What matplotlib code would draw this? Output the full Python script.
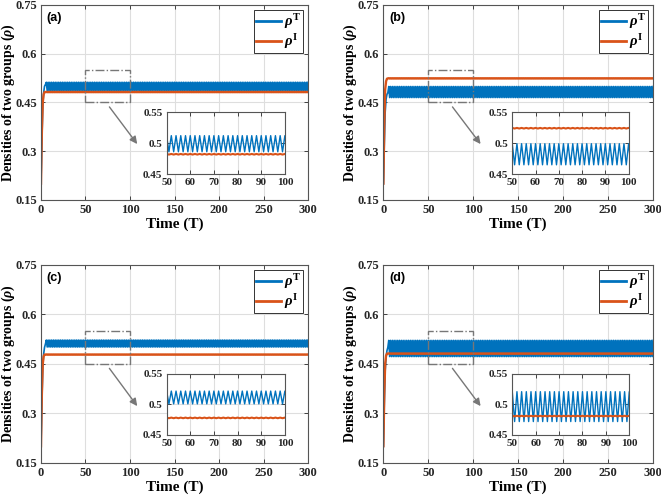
import numpy as np
import matplotlib
matplotlib.use('Agg')
import matplotlib.pyplot as plt
from matplotlib.patches import Rectangle

plt.rcParams['font.family'] = 'Liberation Serif'
plt.rcParams['font.weight'] = 'bold'
plt.rcParams['mathtext.fontset'] = 'custom'
plt.rcParams['mathtext.rm'] = 'Liberation Serif:bold'
plt.rcParams['mathtext.it'] = 'Liberation Serif:bold:italic'
plt.rcParams['mathtext.bf'] = 'Liberation Serif:bold'

# time steps
t = np.arange(0, 301)

# start of each run (t = 0..5)
rhoT_start = {
    'a': [0.20, 0.33, 0.44, 0.48, 0.50, 0.505],
    'b': [0.20, 0.32, 0.42, 0.46, 0.475, 0.48],
    'c': [0.20, 0.33, 0.44, 0.48, 0.50, 0.51],
    'd': [0.20, 0.33, 0.43, 0.47, 0.49, 0.50],
}
rhoI_start = {
    'a': [0.20, 0.36, 0.45, 0.475, 0.482, 0.482],
    'b': [0.20, 0.38, 0.49, 0.515, 0.523, 0.524],
    'c': [0.20, 0.36, 0.45, 0.473, 0.478, 0.478],
    'd': [0.20, 0.36, 0.45, 0.475, 0.481, 0.481],
}
# steady state: value at even / odd steps
rhoT_cycle = {
    'a': [0.512, 0.486],
    'b': [0.499, 0.465],
    'c': [0.522, 0.501],
    'd': [0.521, 0.472],
}
rhoI_cycle = {
    'a': [0.4825, 0.4815],
    'b': [0.5245, 0.5235],
    'c': [0.4785, 0.4775],
    'd': [0.4815, 0.4805],
}

panels = ['a', 'b', 'c', 'd']
main_pos = {
    'a': [0.062, 0.597, 0.404, 0.393],
    'b': [0.580, 0.597, 0.408, 0.393],
    'c': [0.062, 0.067, 0.404, 0.399],
    'd': [0.580, 0.067, 0.408, 0.399],
}
inset_pos = {
    'a': [0.252, 0.649, 0.179, 0.125],
    'b': [0.775, 0.649, 0.176, 0.125],
    'c': [0.252, 0.123, 0.179, 0.123],
    'd': [0.775, 0.123, 0.177, 0.123],
}

blue = '#0072BD'
red = '#D95319'
gridc = '#dedede'
spinec = '#262626'


def build(start, cycle):
    n = len(t) - len(start)
    return np.concatenate([start, np.resize(cycle, n)])


def style(ax, fs):
    ax.tick_params(direction='in', top=True, right=True, labelsize=fs,
                   length=3, width=0.6, colors=spinec, pad=3)
    ax.grid(True, color=gridc, lw=0.8)
    ax.set_axisbelow(True)
    for s in ax.spines.values():
        s.set_color('#555555')
        s.set_linewidth(0.8)
    for lab in ax.get_xticklabels() + ax.get_yticklabels():
        lab.set_fontweight('bold')


fig = plt.figure(figsize=(6.61, 4.96), dpi=100)

for p in panels:
    yT = build(rhoT_start[p], rhoT_cycle[p])
    yI = build(rhoI_start[p], rhoI_cycle[p])

    ax = fig.add_axes(main_pos[p])
    ax.plot(t, yT, color=blue, lw=1.2, label=r'$\rho^{\rm T}$')
    ax.plot(t, yI, color=red, lw=1.7, label=r'$\rho^{\rm I}$')
    ax.set_xlim(0, 300)
    ax.set_ylim(0.15, 0.75)
    ax.set_xticks([0, 50, 100, 150, 200, 250, 300])
    ax.set_yticks([0.15, 0.3, 0.45, 0.6, 0.75])
    ax.set_yticklabels(['0.15', '0.3', '0.45', '0.6', '0.75'])
    style(ax, 9)
    ax.set_xlabel('Time (T)', fontsize=11, fontweight='bold', labelpad=1)
    ax.set_ylabel(r'Densities of two groups ($\rho$)', fontsize=10,
                  fontweight='bold')
    ax.yaxis.set_label_coords(-0.09, 0.5)
    ax.text(0.022, 0.965, '(%s)' % p, transform=ax.transAxes, ha='left',
            va='top', fontsize=9, fontweight='bold', family='Liberation Sans')
    leg = ax.legend(loc='upper right', fontsize=10.5, handlelength=1.7,
                    borderaxespad=0.35, fancybox=False, framealpha=1,
                    edgecolor='#333333', borderpad=0.15, labelspacing=0.05,
                    handletextpad=0.2)
    leg.get_frame().set_linewidth(0.7)
    for ln in leg.get_lines():
        ln.set_linewidth(2.0)

    ax.add_patch(Rectangle((50, 0.45), 50, 0.1, fill=False, ec='#777777',
                           ls='-.', lw=1.0, zorder=5))
    ax.annotate('', xy=(110, 0.315), xytext=(75, 0.443),
                arrowprops=dict(arrowstyle='-|>', color='#777777', lw=1.0,
                                mutation_scale=11))

    ins = fig.add_axes(inset_pos[p])
    ins.plot(t, yT, color=blue, lw=1.0)
    ins.plot(t, yI, color=red, lw=1.5)
    ins.set_xlim(50, 100)
    ins.set_ylim(0.45, 0.55)
    ins.set_xticks([50, 60, 70, 80, 90, 100])
    ins.set_yticks([0.45, 0.5, 0.55])
    ins.set_yticklabels(['0.45', '0.5', '0.55'])
    style(ins, 8)

fig.savefig('out.png', dpi=100)
